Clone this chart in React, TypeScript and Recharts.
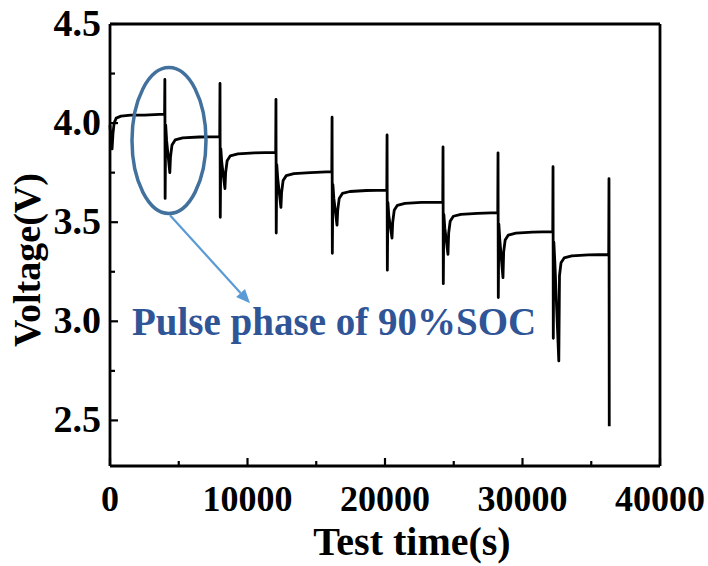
import React from 'react';
import {
  LineChart,
  Line,
  XAxis,
  YAxis,
  ReferenceLine,
  ReferenceDot,
} from 'recharts';

// Test time (s) and cell voltage (V) for the pulse test
const testTime = [
  0, 60, 150, 220, 300, 450, 800, 1500, 2500, 3970,
  3990, 4010, 4050, 4120, 4350, 4400, 4510, 4740, 5290, 6490, 7980,
  8000, 8020, 8060, 8130, 8360, 8410, 8520, 8750, 9300, 10500, 12050,
  12070, 12090, 12130, 12200, 12430, 12480, 12590, 12820, 13370, 14570, 16130,
  16150, 16170, 16210, 16280, 16510, 16560, 16670, 16900, 17450, 18650, 20130,
  20150, 20170, 20210, 20280, 20510, 20560, 20670, 20900, 21450, 22650, 24200,
  24220, 24240, 24280, 24350, 24580, 24630, 24740, 24970, 25520, 26720, 28200,
  28220, 28240, 28280, 28350, 28580, 28630, 28740, 28970, 29520, 30720, 32200,
  32220, 32240, 32280, 32350, 32640, 32690, 32800, 33030, 33580, 34780, 36270,
  36290, 36310,
];

const voltage = [
  3.99, 3.92, 3.87, 3.95, 4.0, 4.025, 4.035, 4.04, 4.04, 4.045,
  4.22, 3.62, 3.99, 3.91, 3.75, 3.83, 3.89, 3.915, 3.925, 3.93, 3.932,
  4.2, 3.525, 3.87, 3.8, 3.67, 3.75, 3.81, 3.835, 3.845, 3.85, 3.852,
  4.12, 3.445, 3.79, 3.72, 3.575, 3.65, 3.71, 3.735, 3.745, 3.75, 3.755,
  4.03, 3.343, 3.69, 3.62, 3.485, 3.56, 3.62, 3.645, 3.655, 3.66, 3.662,
  3.94, 3.258, 3.6, 3.53, 3.42, 3.5, 3.56, 3.585, 3.595, 3.6, 3.6,
  3.88, 3.19, 3.54, 3.47, 3.338, 3.445, 3.505, 3.53, 3.54, 3.545, 3.548,
  3.85, 3.12, 3.49, 3.41, 3.22, 3.35, 3.41, 3.435, 3.445, 3.45, 3.452,
  3.78, 2.914, 3.4, 3.3, 2.8, 3.23, 3.295, 3.32, 3.33, 3.335, 3.337,
  3.72, 2.47,
];

const xTicks = [0, 5000, 10000, 15000, 20000, 25000, 30000, 35000, 40000];
const yTicks = [2.5, 2.75, 3.0, 3.25, 3.5, 3.75, 4.0, 4.25, 4.5];

const data = testTime.map((t, i) => ({ t, v: voltage[i] }));

const FONT = '"Liberation Serif", "Times New Roman", serif';
const NOTE_BLUE = '#2f5597';

const XTick = ({ x, y, payload }: any) => {
  const major = payload.value % 10000 === 0;
  return (
    <g>
      <line x1={x} y1={y} x2={x} y2={y - (major ? 8 : 5)} stroke="#000" strokeWidth={2.2} />
      {major && (
        <text x={x} y={y + 45} textAnchor="middle" fontFamily={FONT} fontWeight="bold" fontSize={36} fill="#000">
          {payload.value}
        </text>
      )}
    </g>
  );
};

const YTick = ({ x, y, payload }: any) => {
  const major = Math.abs((payload.value * 2) % 1) < 1e-6;
  return (
    <g>
      <line x1={x} y1={y} x2={x + (major ? 8 : 5)} y2={y} stroke="#000" strokeWidth={2.2} />
      {major && (
        <text x={x - 9} y={y + 12} textAnchor="end" fontFamily={FONT} fontWeight="bold" fontSize={38} fill="#000">
          {payload.value.toFixed(1)}
        </text>
      )}
    </g>
  );
};

const Arrow = ({ x1, y1, x2, y2 }: any) => {
  const ang = Math.atan2(y2 - y1, x2 - x1);
  const len = 14;
  const half = 6;
  const bx = x2 - len * Math.cos(ang);
  const by = y2 - len * Math.sin(ang);
  const px = -Math.sin(ang) * half;
  const py = Math.cos(ang) * half;
  return (
    <g>
      <line x1={x1} y1={y1} x2={bx} y2={by} stroke="#5b9bd5" strokeWidth={2.2} />
      <polygon points={`${x2},${y2} ${bx + px},${by + py} ${bx - px},${by - py}`} fill="#5b9bd5" />
    </g>
  );
};

export default function App() {
  return (
    <div style={{ position: 'absolute', left: 0, top: 0, background: '#fff' }}>
      <LineChart
        width={708}
        height={566}
        data={data}
        margin={{ top: 24, right: 48, bottom: 40, left: 10 }}
      >
        <XAxis
          dataKey="t"
          type="number"
          domain={[0, 40000]}
          ticks={xTicks}
          interval={0}
          height={60}
          tickSize={0}
          tickMargin={0}
          tickLine={false}
          tick={<XTick />}
          axisLine={{ stroke: '#000', strokeWidth: 2.8 }}
          label={{
            content: ({ viewBox }: any) => (
              <text
                x={viewBox.x + viewBox.width / 2 + 27}
                y={555}
                textAnchor="middle"
                fontFamily={FONT}
                fontWeight="bold"
                fontSize={40}
                fill="#000"
              >
                Test time(s)
              </text>
            ),
          }}
        />
        <YAxis
          type="number"
          domain={[2.27, 4.5]}
          allowDataOverflow
          ticks={yTicks}
          interval={0}
          width={100}
          tickSize={0}
          tickMargin={0}
          tickLine={false}
          tick={<YTick />}
          axisLine={{ stroke: '#000', strokeWidth: 2.8 }}
          label={{
            content: ({ viewBox }: any) => (
              <text
                x={40}
                y={viewBox.y + viewBox.height / 2 + 15}
                transform={`rotate(-90, 40, ${viewBox.y + viewBox.height / 2 + 15})`}
                textAnchor="middle"
                fontFamily={FONT}
                fontWeight="bold"
                fontSize={38}
                fill="#000"
              >
                Voltage(V)
              </text>
            ),
          }}
        />
        <ReferenceLine y={4.5} stroke="#000" strokeWidth={2.8} />
        <ReferenceLine x={40000} stroke="#000" strokeWidth={2.8} />
        <Line
          type="linear"
          dataKey="v"
          stroke="#000"
          strokeWidth={2.8}
          strokeLinejoin="round"
          dot={false}
          isAnimationActive={false}
        />
        <ReferenceDot
          x={4290}
          y={3.912}
          shape={({ cx, cy }: any) => (
            <ellipse cx={cx} cy={cy} rx={37} ry={73} fill="none" stroke="#41719c" strokeWidth={3.5} />
          )}
        />
        <ReferenceLine
          segment={[
            { x: 4364, y: 3.535 },
            { x: 10180, y: 3.091 },
          ]}
          shape={(p: any) => <Arrow {...p} />}
        />
        <ReferenceDot
          x={1600}
          y={2.929}
          shape={({ cx, cy }: any) => (
            <text x={cx} y={cy} fontFamily={FONT} fontWeight="bold" fontSize={39} fill={NOTE_BLUE}>
              Pulse phase of 90%SOC
            </text>
          )}
        />
      </LineChart>
    </div>
  );
}
